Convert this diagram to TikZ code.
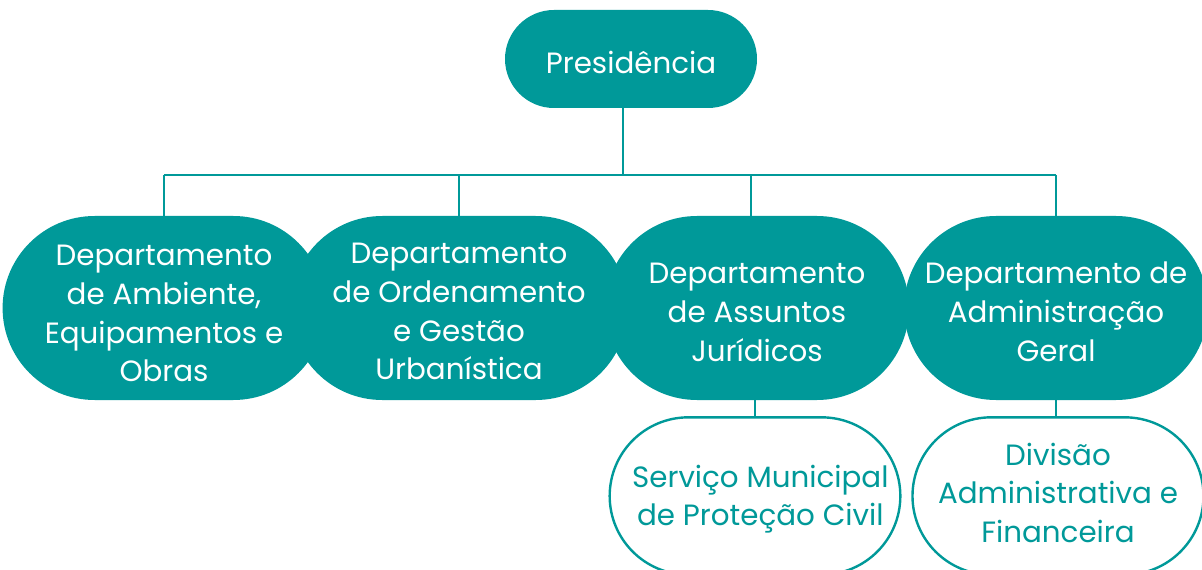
\documentclass[tikz,border=0pt]{standalone}
\usepackage{fontspec}
\setmainfont{Poppins}
\usetikzlibrary{shapes.misc}
\definecolor{teal}{RGB}{0,153,153}
\newcommand{\lowered}[2]{\raisebox{-#1}[\height][\depth]{\begin{tabular}{@{}c@{}}#2\end{tabular}}}

\begin{document}
\begin{tikzpicture}[
  x=0.75pt, y=-0.75pt,
  font=\fontsize{22}{29}\selectfont,
  unit/.style={rounded rectangle, fill=teal, text=white,
               inner sep=0pt, align=center},
  pres/.style={unit, minimum width=189pt, minimum height=73.5pt},
  dept/.style={unit, minimum width=228pt, minimum height=138pt},
  sub/.style={rounded rectangle, draw=teal, line width=1.8pt, fill=white,
              text=teal, inner sep=0pt, align=center,
              minimum width=218pt, minimum height=118pt},
  link/.style={draw=teal, line width=1.9pt}
]
\clip (0,0) rectangle (1202,570);
\useasboundingbox (0,0) rectangle (1202,570);

\node[pres] (presid) at (631,59) {\lowered{5pt}{Presidência}};

\node[dept] (dep1) at (164,308)
  {\lowered{6pt}{Departamento\\de Ambiente,\\Equipamentos e\\Obras}};
\node[dept] (dep2) at (459,308)
  {\lowered{4.5pt}{Departamento\\de Ordenamento\\e Gestão\\Urbanística}};
\node[dept] (dep3) at (757,308)
  {\lowered{5pt}{Departamento\\de Assuntos\\Jurídicos}};
\node[dept] (dep4) at (1056,308)
  {\lowered{5pt}{Departamento de\\Administração\\Geral}};

\node[sub] (serv) at (755,496)
  {\hspace{8pt}\lowered{2pt}{Serviço Municipal\\de Proteção Civil}};
\node[sub] (divi) at (1058,496)
  {\lowered{0pt}{Divisão\\Administrativa e\\Financeira}};

% tree connectors
\coordinate (hub) at ([xshift=-6pt]presid.south |- 0,175);
\draw[link] (hub |- presid.south) -- (hub);
\draw[link] (dep1.north |- hub) -- (dep4.north |- hub);
\foreach \d in {dep1,dep2,dep4}
  \draw[link] (\d.north |- hub) -- (\d.north);
\draw[link] ([xshift=-4.5pt]dep3.north |- hub) -- ([xshift=-4.5pt]dep3.north);
\draw[link] (serv.north |- dep3.south) -- (serv.north);
\draw[link] (dep4.south) -- (dep4.south |- divi.north);

\end{tikzpicture}
\end{document}
